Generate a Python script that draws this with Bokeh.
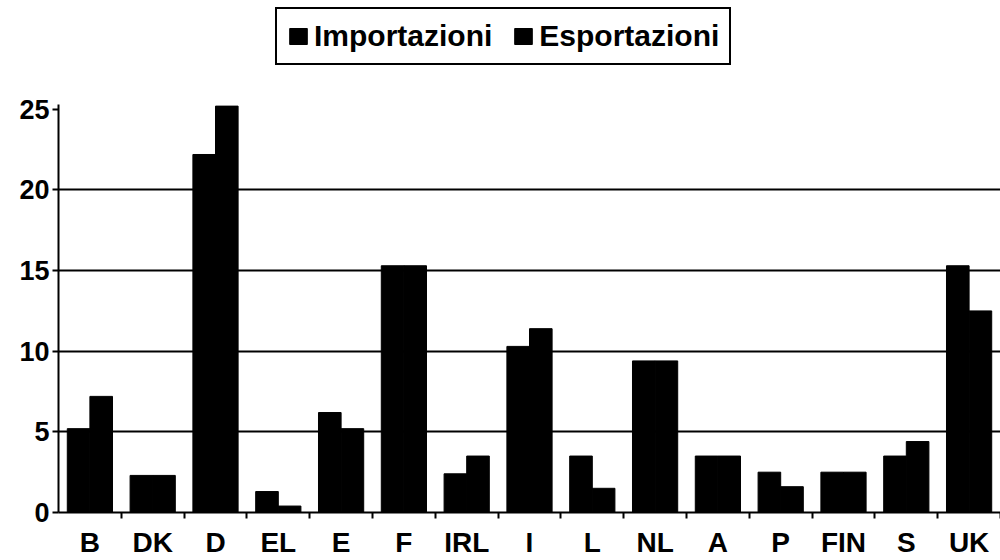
from bokeh.plotting import figure
from bokeh.layouts import column
from bokeh.models import Range1d, FixedTicker, Legend, LegendItem, ColumnDataSource
from bokeh.transform import dodge
from bokeh.embed import file_html
from bokeh.resources import INLINE

countries = ["B", "DK", "D", "EL", "E", "F", "IRL", "I", "L", "NL", "A", "P", "FIN", "S", "UK"]
importazioni = [5.2, 2.3, 22.2, 1.3, 6.2, 15.3, 2.4, 10.3, 3.5, 9.4, 3.5, 2.5, 2.5, 3.5, 15.3]
esportazioni = [7.2, 2.3, 25.2, 0.4, 5.2, 15.3, 3.5, 11.4, 1.5, 9.4, 3.5, 1.6, 2.5, 4.4, 12.5]
series_names = ["Importazioni", "Esportazioni"]
y_ticks = [0, 5, 10, 15, 20, 25]
grid_values = [5, 10, 15, 20]

n = len(countries)
centers = [i + 0.5 for i in range(n)]
boundaries = [i for i in range(1, n + 1)]

source = ColumnDataSource(dict(x=centers, imp=importazioni, exp=esportazioni, c=countries))

FONT = "Liberation Sans"

# ---------- main chart ----------
p = figure(width=1000, height=476, output_backend="svg", toolbar_location=None,
           x_range=Range1d(0, n), y_range=Range1d(0, 25.3),
           min_border_left=58, min_border_right=0, min_border_top=20, min_border_bottom=46)
p.outline_line_color = None
p.background_fill_color = "white"
p.border_fill_color = "white"

r1 = p.vbar(x=dodge("x", -0.18, range=p.x_range), top="imp", width=0.36, source=source,
            fill_color="black", line_color="black")
r2 = p.vbar(x=dodge("x", 0.18, range=p.x_range), top="exp", width=0.36, source=source,
            fill_color="black", line_color="black")

p.xaxis.ticker = FixedTicker(ticks=centers, minor_ticks=boundaries)
p.xaxis.major_label_overrides = {c: lab for c, lab in zip(centers, countries)}
p.xaxis.major_tick_line_color = None
p.xaxis.major_tick_out = 6
p.xaxis.minor_tick_out = 6
p.xaxis.minor_tick_in = 0
p.xaxis.minor_tick_line_width = 2
p.xaxis.minor_tick_line_color = "black"
p.xaxis.axis_line_width = 2
p.xaxis.axis_line_color = "black"
p.xaxis.major_label_text_font = FONT
p.xaxis.major_label_text_font_style = "bold"
p.xaxis.major_label_text_font_size = "28px"
p.xaxis.major_label_text_color = "black"
p.xaxis.major_label_standoff = 8

p.yaxis.ticker = FixedTicker(ticks=y_ticks)
p.yaxis.major_tick_out = 6
p.yaxis.major_tick_in = 0
p.yaxis.major_tick_line_width = 2
p.yaxis.major_tick_line_color = "black"
p.yaxis.minor_tick_line_color = None
p.yaxis.axis_line_width = 2
p.yaxis.axis_line_color = "black"
p.yaxis.major_label_text_font = FONT
p.yaxis.major_label_text_font_style = "bold"
p.yaxis.major_label_text_font_size = "27px"
p.yaxis.major_label_text_color = "black"
p.yaxis.major_label_standoff = 3

p.xgrid.grid_line_color = None
p.ygrid.ticker = FixedTicker(ticks=grid_values)
p.ygrid.grid_line_color = "black"
p.ygrid.grid_line_width = 2

# ---------- legend strip (bars drawn out of view, only the legend shows) ----------
top = figure(width=1000, height=84, output_backend="svg", toolbar_location=None,
             x_range=Range1d(0, n), y_range=Range1d(1000, 1001),
             x_axis_location=None, y_axis_location=None,
             min_border_left=0, min_border_right=0, min_border_top=0, min_border_bottom=0)
top.outline_line_color = None
top.grid.visible = False
top.background_fill_color = "white"
top.border_fill_color = "white"
d1 = top.vbar(x="x", top="imp", width=0.36, source=source, fill_color="black", line_color="black")
d2 = top.vbar(x="x", top="exp", width=0.36, source=source, fill_color="black", line_color="black")

legend = Legend(items=[LegendItem(label=series_names[0], renderers=[d1], index=0),
                       LegendItem(label=series_names[1], renderers=[d2], index=0)],
                orientation="horizontal", location=(217, 19), margin=0,
                padding=10, spacing=20, label_standoff=5,
                glyph_width=22, glyph_height=20,
                label_text_font=FONT, label_text_font_style="bold",
                label_text_font_size="30px", label_text_color="black",
                border_line_color="black", border_line_alpha=1, border_line_width=2,
                background_fill_color="white", background_fill_alpha=1)
top.add_layout(legend, "center")

layout = column(top, p, spacing=0)
open("out.html", "w").write(file_html(layout, INLINE))
